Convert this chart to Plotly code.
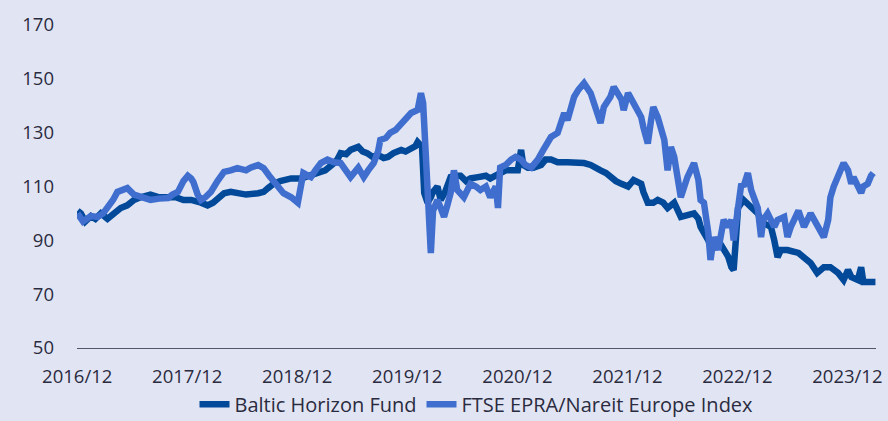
import pandas as pd
import plotly.graph_objects as go

# values, time as decimal years
baltic_t = [2016.92, 2016.95, 2016.99, 2017.04, 2017.08, 2017.13, 2017.19, 2017.25, 2017.31, 2017.37,
            2017.43, 2017.49, 2017.58, 2017.66, 2017.74, 2017.81, 2017.88, 2017.95, 2018.04, 2018.10,
            2018.15, 2018.20, 2018.25, 2018.31, 2018.37, 2018.45, 2018.56, 2018.61, 2018.65, 2018.70,
            2018.76, 2018.86, 2018.95, 2019.04, 2019.10, 2019.17, 2019.25, 2019.28, 2019.31, 2019.36,
            2019.40, 2019.47, 2019.51, 2019.55, 2019.60, 2019.65, 2019.70, 2019.74, 2019.79, 2019.86,
            2019.90, 2019.95, 2019.99, 2020.01, 2020.05, 2020.07, 2020.10, 2020.13, 2020.15, 2020.19,
            2020.22, 2020.26, 2020.31, 2020.36, 2020.40, 2020.45, 2020.49, 2020.56, 2020.63, 2020.67,
            2020.76, 2020.81, 2020.86, 2020.92, 2020.95, 2020.97, 2021.01, 2021.06, 2021.13, 2021.17,
            2021.22, 2021.28, 2021.37, 2021.44, 2021.52, 2021.58, 2021.64, 2021.67, 2021.72, 2021.76,
            2021.81, 2021.86, 2021.92, 2021.97, 2022.04, 2022.06, 2022.10, 2022.15, 2022.19, 2022.24,
            2022.28, 2022.34, 2022.40, 2022.46, 2022.52, 2022.56, 2022.58, 2022.65, 2022.67, 2022.74,
            2022.79, 2022.83, 2022.86, 2022.88, 2022.90, 2022.92, 2022.97, 2023.04, 2023.10, 2023.15,
            2023.22, 2023.25, 2023.28, 2023.31, 2023.37, 2023.47, 2023.52, 2023.58, 2023.64, 2023.70,
            2023.76, 2023.83, 2023.88, 2023.92, 2023.95, 2024.01, 2024.04, 2024.06, 2024.13, 2024.17]
baltic_v = [101, 100, 97, 99, 98, 100, 98, 100, 102, 103,
            105, 106, 107, 106, 106, 106, 105, 105, 104, 103,
            104, 106, 107.5, 108, 107.6, 107, 107.5, 108, 109.4, 111,
            112, 113, 113, 114, 115, 116, 118.7, 120, 122.4, 122,
            123.6, 124.7, 123, 122.4, 121, 121.7, 120.6, 121, 122.4, 123.6,
            123, 124.3, 125, 126.5, 124.7, 107.6, 104, 106, 108, 110,
            105, 108, 113.5, 114, 114, 112, 113, 113.5, 114, 113,
            115, 116, 116, 116, 123.6, 118, 117, 117, 118, 120,
            120, 119, 119, 119, 118.7, 118, 117, 116, 115, 113.5,
            112, 111, 110, 112.4, 111, 108, 104, 104, 105, 104,
            102, 104, 98.7, 99.4, 100, 98, 95, 90, 87.5, 90,
            86.4, 84, 80, 79, 90, 102, 105, 102, 100, 96.4,
            95, 90, 83.8, 86.4, 86.4, 85.3, 83.8, 81.6, 77.9, 80,
            80, 77.9, 75.3, 79, 76.4, 75.3, 80, 74.5, 74.5, 74.5]

ftse_t = [2016.92, 2016.95, 2016.97, 2017.04, 2017.10, 2017.15, 2017.19, 2017.24, 2017.28, 2017.33,
          2017.37, 2017.43, 2017.49, 2017.58, 2017.66, 2017.74, 2017.78, 2017.83, 2017.88, 2017.92,
          2017.95, 2017.97, 2018.01, 2018.04, 2018.08, 2018.13, 2018.19, 2018.25, 2018.31, 2018.37,
          2018.45, 2018.49, 2018.56, 2018.61, 2018.66, 2018.70, 2018.75, 2018.79, 2018.86, 2018.92,
          2018.97, 2019.04, 2019.08, 2019.13, 2019.19, 2019.25, 2019.31, 2019.36, 2019.40, 2019.47,
          2019.52, 2019.56, 2019.61, 2019.65, 2019.67, 2019.72, 2019.76, 2019.81, 2019.86, 2019.90,
          2019.95, 2020.01, 2020.04, 2020.06, 2020.08, 2020.10, 2020.13, 2020.15, 2020.19, 2020.22,
          2020.25, 2020.28, 2020.31, 2020.34, 2020.37, 2020.43, 2020.49, 2020.54, 2020.58, 2020.63,
          2020.67, 2020.72, 2020.74, 2020.76, 2020.81, 2020.86, 2020.90, 2020.95, 2020.99, 2021.04,
          2021.10, 2021.15, 2021.22, 2021.28, 2021.34, 2021.37, 2021.43, 2021.47, 2021.52, 2021.58,
          2021.64, 2021.67, 2021.70, 2021.76, 2021.79, 2021.86, 2021.88, 2021.92, 2021.97, 2022.04,
          2022.06, 2022.10, 2022.13, 2022.15, 2022.19, 2022.25, 2022.28, 2022.31, 2022.34, 2022.40,
          2022.46, 2022.52, 2022.56, 2022.58, 2022.61, 2022.65, 2022.67, 2022.70, 2022.74, 2022.79,
          2022.83, 2022.86, 2022.88, 2022.92, 2022.95, 2022.97, 2023.01, 2023.04, 2023.06, 2023.10,
          2023.13, 2023.15, 2023.19, 2023.22, 2023.25, 2023.28, 2023.34, 2023.37, 2023.40, 2023.47,
          2023.49, 2023.52, 2023.58, 2023.64, 2023.70, 2023.74, 2023.76, 2023.79, 2023.86, 2023.88,
          2023.92, 2023.95, 2023.97, 2024.01, 2024.04, 2024.06, 2024.10, 2024.13, 2024.15]
ftse_v = [100, 98, 97, 99, 98.7, 100, 102, 105, 108, 108.5,
          109.4, 107, 106, 105, 105.5, 105.7, 107, 108, 112, 114,
          113, 111.7, 107, 105, 106, 108, 112, 115.4, 116, 116.8,
          116, 117, 118, 116.8, 114, 112, 109, 107.5, 106, 104,
          115, 113.5, 116, 118.7, 120, 119, 118.7, 116, 113.5, 117,
          113.5, 116, 118.7, 123, 127.3, 128, 129.9, 131, 133.6, 135,
          137.3, 138.4, 144.7, 141, 125, 107.6, 85.3, 101, 105, 102,
          98.7, 103, 107.6, 116, 108.7, 106, 111, 110, 108.7, 110,
          106, 110, 102, 117, 118, 120, 121, 120, 118, 117,
          120, 123.6, 128.4, 129.9, 137.3, 134.7, 143.3, 146, 148.4, 144.7,
          135.8, 133.6, 139.5, 143.3, 147, 142.3, 138.4, 144.7, 141, 135.8,
          132, 126, 134.7, 139.5, 135.8, 127.3, 116, 124.7, 121, 106,
          113.5, 118.7, 112.4, 105, 104, 92.7, 82.7, 91.2, 86.4, 97.6,
          95, 97.6, 90, 105, 111, 110, 115, 108.7, 106, 102,
          91.2, 97.6, 100, 97.6, 95, 97.6, 98.7, 91.2, 95, 101,
          98.7, 95, 100, 95, 91.2, 97.6, 106, 110, 116, 118.7,
          116, 111, 113.5, 110, 107.6, 110, 111, 114, 115]

tick_years = [2016, 2017, 2018, 2019, 2020, 2021, 2022, 2023]
tick_text = [f"{y}/12" for y in tick_years]


def to_date(t):
    year = int(t)
    return pd.Timestamp(year=year, month=1, day=1) + pd.Timedelta(days=(t - year) * 365.25)


bg = '#E1E5F3'
fig = go.Figure()
fig.add_trace(go.Scatter(
    x=[to_date(t) for t in baltic_t], y=baltic_v, mode='lines',
    name='Baltic Horizon Fund',
    line=dict(color='#02499A', width=6.5),
))
fig.add_trace(go.Scatter(
    x=[to_date(t) for t in ftse_t], y=ftse_v, mode='lines',
    name='FTSE EPRA/Nareit Europe Index',
    line=dict(color='#3F6ECF', width=6.5),
))

fig.update_layout(
    width=888, height=421,
    margin=dict(l=77, r=12, t=25, b=73, autoexpand=False),
    plot_bgcolor=bg, paper_bgcolor=bg,
    font=dict(family='Open Sans, sans-serif', size=18.5, color='#2B2B3F'),
    showlegend=True,
    legend=dict(orientation='h', x=0.5, xanchor='center',
                yref='container', y=0.04, yanchor='middle',
                font=dict(size=20), bgcolor='rgba(0,0,0,0)',
                tracegroupgap=0, itemwidth=30),
)
fig.update_xaxes(
    range=[to_date(2016.915), to_date(2024.175)],
    tickvals=[pd.Timestamp(year=y, month=12, day=1) for y in tick_years],
    ticktext=tick_text,
    showgrid=False, zeroline=False,
    showline=True, linecolor='#55556A', linewidth=1,
    ticks='', ticklabelstandoff=12,
)
fig.update_yaxes(
    range=[50, 170], tickvals=[50, 70, 90, 110, 130, 150, 170],
    showgrid=False, zeroline=False, showline=False,
    ticks='', ticklabelstandoff=22,
)

# remove the page margin so the figure sits at the window corner
fig.write_html("out.html", config={'displayModeBar': False},
               post_script="document.body.style.margin='0';")
